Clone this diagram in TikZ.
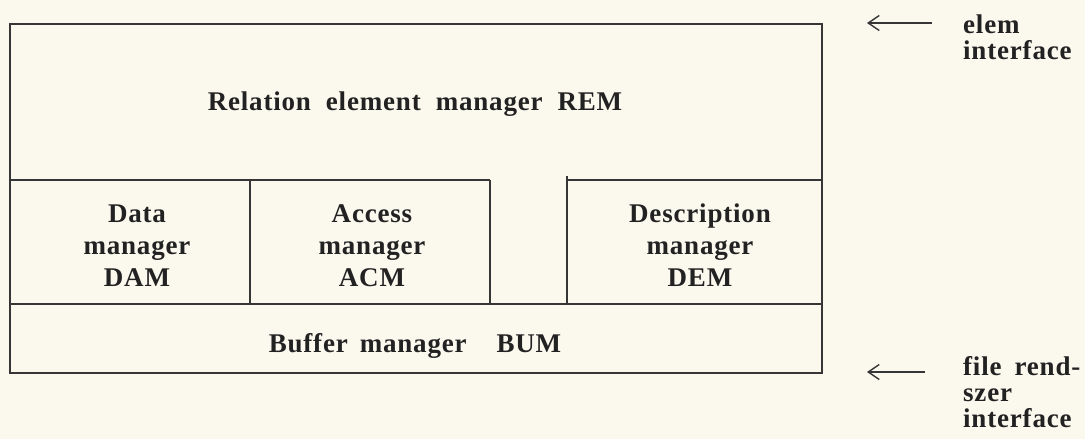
\documentclass[tikz,border=0pt]{standalone}
\usepackage{fontspec}
\setmainfont{Liberation Serif}[LetterSpace=3]
\usetikzlibrary{arrows.meta}
\definecolor{paper}{HTML}{FBF8EE}
\definecolor{ink}{HTML}{222222}
\definecolor{rule}{HTML}{363636}
\begin{document}
\begin{tikzpicture}[x=1pt,y=-1pt,
  frame/.style={draw=rule,line width=2.2pt},
  lbl/.style={inner sep=0pt,text=ink,font=\fontsize{27}{32}\selectfont\bfseries,align=center,anchor=base},
  side/.style={inner sep=0pt,text=ink,font=\fontsize{27}{26}\selectfont\bfseries,align=left,anchor=base west},
  iface/.style={draw=rule,line width=1.4pt,-{Straight Barb[length=11pt,width=15pt,line width=1.4pt]}}]
  \useasboundingbox (0,0) rectangle (1085,439);
  \fill[paper] (0,0) rectangle (1085,439);

  % outer frame and the layer divisions
  \draw[frame] (10,24) rectangle (822,373);
  \draw[frame] (10,180) -- (490,180);
  \draw[frame] (567,180) -- (822,180);
  \draw[frame] (10,304) -- (822,304);
  \draw[frame] (250,180) -- (250,304);
  \draw[frame] (490,180) -- (490,304);
  \draw[frame] (567,176) -- (567,304);

  % layer names (multi-line nodes sit on the baseline of their last line)
  \node[lbl] (rem) at (415,110) {Relation\hspace{15pt}element\hspace{15pt}manager\hspace{15pt}REM};
  \node[lbl] (dam) at (137,286) {Data\\manager\\DAM};
  \node[lbl] (acm) at (372,286) {Access\\manager\\ACM};
  \node[lbl] (dem) at (700,286) {Description\\manager\\DEM};
  \node[lbl] (bum) at (415,352) {Buffer\hspace{12pt}manager\hspace{30pt}BUM};

  % interfaces on the right
  \node[side] (elem) at (963,59) {elem\\interface};
  \node[side] (file) at (963,427) {file\hspace{13pt}rend-\\szer\\interface};
  \coordinate (elemtip) at (867,23);
  \coordinate (filetip) at (867,372);
  \draw[iface] (elem.west |- elemtip) ++(-31,0) -- (elemtip);
  \draw[iface] (file.west |- filetip) ++(-38,0) -- (filetip);
\end{tikzpicture}
\end{document}
